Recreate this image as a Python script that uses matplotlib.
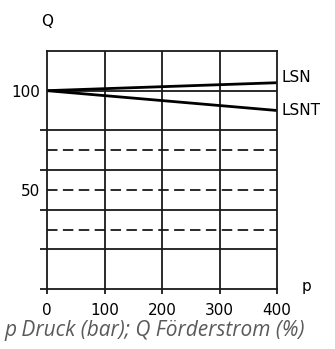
import matplotlib
matplotlib.use("Agg")
import matplotlib.pyplot as plt

# Pressure axis (bar) and delivery flow (%)
pressure = [0, 400]
lsn_flow = [100, 104]
lsnt_flow = [100, 90]

x_ticks = [0, 100, 200, 300, 400]
y_labels = [50, 100]
solid_levels = [20, 40, 60, 80, 100]
dashed_levels = [30, 50, 70]
series_names = ["LSN", "LSNT"]
caption = "p Druck (bar); Q Förderstrom (%)"

fig = plt.figure(figsize=(3.35, 3.49), dpi=100)
ax = fig.add_axes([0.1403, 0.1719, 0.6866, 0.6820])
ax.set_xlim(0, 400)
ax.set_ylim(0, 120)

grid_color = "#1a1a1a"
for x in x_ticks[1:-1]:
    ax.axvline(x, color=grid_color, lw=1.3)
for y in solid_levels:
    ax.axhline(y, color=grid_color, lw=1.3)
for y in dashed_levels:
    ax.axhline(y, color=grid_color, lw=1.3, dashes=(5.8, 3.0))

ax.plot(pressure, lsn_flow, color="black", lw=2.0, solid_capstyle="butt")
ax.plot(pressure, lsnt_flow, color="black", lw=2.0, solid_capstyle="butt")

for s in ax.spines.values():
    s.set_linewidth(1.3)
    s.set_color(grid_color)

tick_font = dict(family="DejaVu Sans", size=11)
ax.set_xticks(x_ticks)
ax.set_xticklabels([str(v) for v in x_ticks], **tick_font)
ax.tick_params(axis="x", direction="out", length=3.5, width=1.3, pad=6.5, color=grid_color)
ax.set_yticks(y_labels)
ax.set_yticklabels([str(v) for v in y_labels], **tick_font)
ax.tick_params(axis="y", which="major", length=0, pad=5)
ax.set_yticks([0, 20, 40, 60, 80], minor=True)
ax.tick_params(axis="y", which="minor", direction="out", length=5, width=1.3, color=grid_color)

ax.text(408, 106.4, series_names[0], va="center", ha="left", clip_on=False, **tick_font)
ax.text(408, 90, series_names[1], va="center", ha="left", clip_on=False, **tick_font)
ax.text(0, 135, "Q", va="center", ha="center", clip_on=False, **tick_font)
ax.text(452, 1.5, "p", va="center", ha="center", clip_on=False, **tick_font)

fig.text(0.012, 0.054, caption, ha="left", va="center", fontsize=15,
         family="Open Sans", style="italic", color="#5a5a5a")

fig.savefig("out.png", dpi=100)
